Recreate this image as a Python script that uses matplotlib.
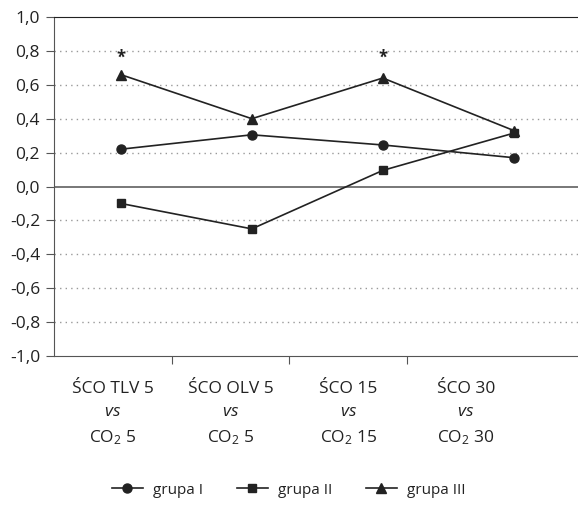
import numpy as np
import matplotlib
matplotlib.use("Agg")
import matplotlib.pyplot as plt

plt.rcParams['font.family'] = ['Open Sans', 'DejaVu Sans']
plt.rcParams['mathtext.fontset'] = 'custom'
plt.rcParams['mathtext.rm'] = 'Open Sans'
plt.rcParams['mathtext.it'] = 'Open Sans:italic'

# data
categories = ["ŚCO TLV 5\n$\\it{vs}$\nCO$_2$ 5",
              "ŚCO OLV 5\n$\\it{vs}$\nCO$_2$ 5",
              "ŚCO 15\n$\\it{vs}$\nCO$_2$ 15",
              "ŚCO 30\n$\\it{vs}$\nCO$_2$ 30"]
grupa_1 = [0.22, 0.305, 0.245, 0.17]
grupa_2 = [-0.10, -0.25, 0.095, 0.315]
grupa_3 = [0.66, 0.40, 0.64, 0.33]
significant = [True, False, True, False]
star_y = 0.76

yticks = np.arange(-1.0, 1.01, 0.2)
ytick_labels = ["{:.1f}".format(v).replace(".", ",").replace("-0,0", "0,0") for v in yticks]

col = "#222222"

fig = plt.figure(figsize=(5.78, 5.13), dpi=100)
ax = fig.add_axes([54/578, 157/513, 1 - 54/578, 339/513])

x = np.arange(len(categories))
ax.plot(x, grupa_1, color=col, lw=1.2, marker='o', ms=6.5, label='grupa I')
ax.plot(x, grupa_2, color=col, lw=1.2, marker='s', ms=6, label='grupa II')
ax.plot(x, grupa_3, color=col, lw=1.2, marker='^', ms=7.5, label='grupa III')
for xi, s in zip(x, significant):
    if s:
        ax.text(xi, star_y, "*", ha='center', va='center', fontsize=12,
                fontweight='bold', color=col)

ax.set_xlim(-0.51, 3.49)
ax.set_ylim(-1.0, 1.0)
ax.set_yticks(yticks)
ax.set_yticklabels(ytick_labels, fontsize=12.5, color='#222222')
for v in yticks[1:-1]:
    if abs(v) < 1e-9:
        ax.axhline(v, color='#777777', lw=1.4, zorder=1)
    else:
        ax.axhline(v, color='#999999', lw=1, ls=(0, (1, 3)), zorder=1)
ax.set_xticks([])
for sp in ['right', 'bottom']:
    ax.spines[sp].set_visible(False)
ax.spines['top'].set_color(col)
ax.spines['left'].set_color('#555555')
ax.tick_params(axis='y', length=6, color='#555555', pad=4)

# category axis (labels and boundary ticks)
ax2 = ax.twiny()
ax2.set_xlim(0, (578 - 54) / 117.7)
ax2.xaxis.set_ticks_position('bottom')
ax2.spines['bottom'].set_color('#555555')
ax2.spines['top'].set_visible(False)
ax2.spines['right'].set_visible(False)
ax2.spines['left'].set_visible(False)
ax2.set_xticks([1, 2, 3])
ax2.set_xticklabels([])
ax2.set_xticks(np.arange(len(categories)) + 0.5, minor=True)
ax2.set_xticklabels(categories, minor=True, fontsize=12.5, linespacing=1.6, color='#222222')
ax2.tick_params(axis='x', which='major', length=6, color='#555555', direction='out')
ax2.tick_params(axis='x', which='minor', length=0, pad=18)

fig.legend(loc='center', bbox_to_anchor=(0.5, 1 - 490/513), ncol=3, frameon=False,
           fontsize=11, handlelength=2.0, columnspacing=2.2, handletextpad=0.7,
           labelcolor='#222222')

fig.savefig("out.png", dpi=100)
